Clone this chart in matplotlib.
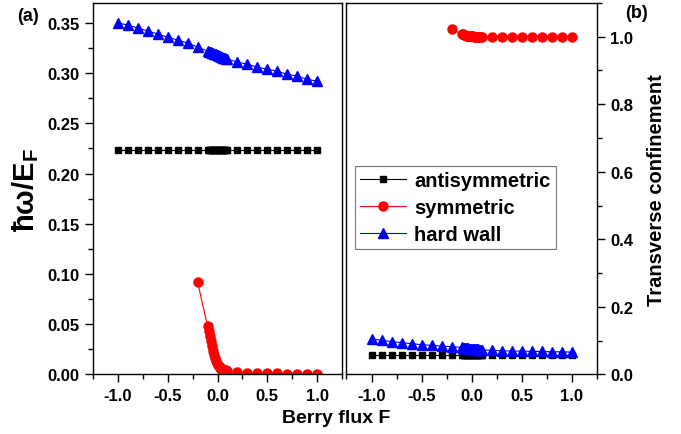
import matplotlib
matplotlib.use("Agg")
import matplotlib.pyplot as plt
from matplotlib.ticker import MultipleLocator

plt.rcParams['font.family'] = ['Liberation Sans', 'DejaVu Sans']
plt.rcParams['font.weight'] = 'bold'
plt.rcParams['axes.unicode_minus'] = False
plt.rcParams['mathtext.fontset'] = 'custom'
plt.rcParams['mathtext.rm'] = 'Liberation Sans:bold'
plt.rcParams['mathtext.bf'] = 'Liberation Sans:bold'
plt.rcParams['mathtext.it'] = 'Liberation Sans:bold'

# Berry flux values (coarse, dense near zero, coarse)
F = [-1.0, -0.9, -0.8, -0.7, -0.6, -0.5, -0.4, -0.3, -0.2,
     -0.1, -0.09, -0.08, -0.07, -0.06, -0.05, -0.04, -0.03, -0.02, -0.01,
     0.0, 0.01, 0.02, 0.03, 0.04, 0.05, 0.06, 0.07, 0.08, 0.09, 0.1,
     0.2, 0.3, 0.4, 0.5, 0.6, 0.7, 0.8, 0.9, 1.0]
F_sym = F[8:]  # symmetric branch starts at -0.2

# (a) hbar*omega / E_F
anti_a = [0.224, 0.224, 0.224, 0.224, 0.224, 0.224, 0.224, 0.224, 0.224,
          0.224, 0.224, 0.224, 0.224, 0.224, 0.224, 0.224, 0.224, 0.224, 0.224,
          0.224, 0.224, 0.224, 0.224, 0.224, 0.224, 0.224, 0.224, 0.224, 0.224, 0.224,
          0.224, 0.224, 0.224, 0.224, 0.224, 0.224, 0.224, 0.224, 0.224]
sym_a = [0.092,
         0.048, 0.043, 0.038, 0.033, 0.028, 0.023, 0.019, 0.016, 0.013, 0.011,
         0.009, 0.008, 0.007, 0.006, 0.0055, 0.005, 0.0047, 0.0044, 0.0042, 0.004, 0.0038,
         0.0022, 0.0017, 0.0014, 0.0012, 0.001, 0.0009, 0.0008, 0.0007, 0.0006]
hard_a = [0.350, 0.348, 0.345, 0.342, 0.339, 0.336, 0.333, 0.330, 0.326,
          0.322, 0.3216, 0.3212, 0.3208, 0.3204, 0.320, 0.3196, 0.3192, 0.3188, 0.3184,
          0.318, 0.3176, 0.3172, 0.3168, 0.3164, 0.316, 0.3156, 0.3152, 0.3148, 0.3144, 0.314,
          0.311, 0.309, 0.306, 0.304, 0.302, 0.299, 0.297, 0.294, 0.292]

# (b) transverse confinement
anti_b = [0.057, 0.057, 0.057, 0.057, 0.057, 0.057, 0.057, 0.057, 0.057,
          0.057, 0.057, 0.057, 0.057, 0.057, 0.057, 0.057, 0.057, 0.057, 0.057,
          0.057, 0.057, 0.057, 0.057, 0.057, 0.057, 0.057, 0.057, 0.057, 0.057, 0.057,
          0.057, 0.057, 0.057, 0.057, 0.057, 0.057, 0.057, 0.057, 0.057]
sym_b = [1.022,
         1.008, 1.0065, 1.005, 1.004, 1.003, 1.0025, 1.002, 1.0015, 1.001, 1.001,
         1.0008, 1.0006, 1.0005, 1.0004, 1.0003, 1.0002, 1.0002, 1.0001, 1.0001, 1.0, 1.0,
         1.0, 1.0, 1.0, 1.0, 1.0, 1.0, 1.0, 1.0, 1.0]
hard_b = [0.105, 0.101, 0.097, 0.094, 0.091, 0.088, 0.086, 0.084, 0.082,
          0.080, 0.0795, 0.079, 0.0785, 0.078, 0.0775, 0.077, 0.0765, 0.076, 0.0755,
          0.075, 0.0748, 0.0746, 0.0744, 0.0742, 0.074, 0.0738, 0.0736, 0.0734, 0.0732, 0.073,
          0.071, 0.070, 0.069, 0.069, 0.068, 0.068, 0.067, 0.067, 0.066]

labels = ["antisymmetric", "symmetric", "hard wall"]

fig = plt.figure(figsize=(6.81, 4.35), dpi=100)
ax1 = fig.add_axes([0.1366, 0.1370, 0.3656, 0.8540])
ax2 = fig.add_axes([0.5088, 0.1370, 0.3678, 0.8540])


def draw(ax, anti, sym, hard):
	ax.plot(F, anti, color='black', lw=0.8, marker='s', ms=5, label=labels[0])
	ax.plot(F_sym, sym, color='red', lw=0.8, marker='o', ms=6.5, label=labels[1])
	ax.plot(F, hard, color='blue', lw=0.8, marker='^', ms=7, label=labels[2])
	ax.set_xlim(-1.25, 1.25)
	ax.xaxis.set_major_locator(MultipleLocator(0.5))
	ax.xaxis.set_minor_locator(MultipleLocator(0.25))
	ax.tick_params(which='both', direction='out', width=1, labelsize=12)
	ax.tick_params(which='major', length=6)
	ax.tick_params(which='minor', length=3.5)
	ax.tick_params(top=False, which='both')
	for s in ax.spines.values():
		s.set_linewidth(1)


draw(ax1, anti_a, sym_a, hard_a)
ax1.set_ylim(0, 0.37)
ax1.yaxis.set_major_locator(MultipleLocator(0.05))
ax1.yaxis.set_minor_locator(MultipleLocator(0.025))
ax1.yaxis.set_major_formatter(plt.FormatStrFormatter('%.2f'))
ax1.tick_params(right=False, which='both')
ax1.set_ylabel(r'ħω/E$_\mathbf{F}$', fontsize=21, fontweight='bold', labelpad=5)

draw(ax2, anti_b, sym_b, hard_b)
ax2.set_ylim(0, 1.1)
ax2.yaxis.set_major_locator(MultipleLocator(0.2))
ax2.yaxis.set_minor_locator(MultipleLocator(0.1))
ax2.yaxis.set_major_formatter(plt.FormatStrFormatter('%.1f'))
ax2.yaxis.tick_right()
ax2.tick_params(left=False, which='both')
ax2.yaxis.set_label_position('right')
ax2.set_ylabel('Transverse confinement', fontsize=14.5, fontweight='bold', labelpad=10)

leg = ax2.legend(loc='upper left', bbox_to_anchor=(0.034, 0.56), borderaxespad=0,
                 fontsize=14.5, frameon=True, fancybox=False, edgecolor='#555555',
                 handlelength=2.3, borderpad=0.25, labelspacing=0.38, handletextpad=0.4)
leg.get_frame().set_linewidth(0.8)
for t in leg.get_texts():
	t.set_fontweight('bold')

fig.text(0.494, 0.038, 'Berry flux F', ha='center', va='center', fontsize=14, fontweight='bold')
fig.text(0.041, 0.962, '(a)', ha='center', va='center', fontsize=13, fontweight='bold')
fig.text(0.935, 0.968, '(b)', ha='center', va='center', fontsize=13, fontweight='bold')

fig.savefig('out.png', dpi=100)
